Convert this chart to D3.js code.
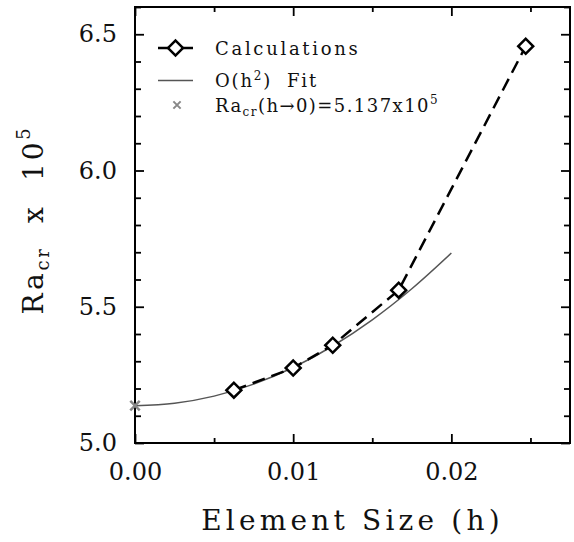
<!DOCTYPE html>
<html lang="en">
<head>
    <meta charset="UTF-8">
    <title>Critical Rayleigh number vs element size</title>
    <script src="https://d3js.org/d3.v7.min.js"></script>
    <style>
        body { margin: 0; background: #fff; }
        svg text { font-family: "DejaVu Serif", serif; fill: #111; }
        .axis path { display: none; }
        .axis line { stroke: #000; stroke-width: 1.8; }
    </style>
</head>
<body>
    <svg id="chart" width="574" height="542"></svg>

    <script>
        // Calculated critical Ra (x 10^5) against element size h
        const calcH = [0.00625, 0.01, 0.0125, 0.01667, 0.0247];
        const calcRa = [5.194, 5.275, 5.359, 5.561, 6.456];

        // O(h^2) fit
        const fitH = [0, 0.0025, 0.005, 0.0075, 0.01, 0.0125, 0.015, 0.0175, 0.02];
        const fitRa = [5.137, 5.146, 5.172, 5.216, 5.277, 5.356, 5.452, 5.566, 5.697];

        // extrapolated value at h -> 0
        const limitH = 0;
        const limitRa = 5.137;

        const xMajor = [0, 0.01, 0.02];
        const xMinor = [0.005, 0.015, 0.025];
        const yMajor = [5.0, 5.5, 6.0, 6.5];
        const yMinor = [5.1, 5.2, 5.3, 5.4, 5.6, 5.7, 5.8, 5.9, 6.1, 6.2, 6.3, 6.4, 6.6];

        const svg = d3.select("#chart"),
            margin = { top: 7, right: 4, bottom: 99, left: 135 },
            width = +svg.attr("width") - margin.left - margin.right,
            height = +svg.attr("height") - margin.top - margin.bottom;

        const chart = svg.append("g")
            .attr("transform", `translate(${margin.left},${margin.top})`);

        const x = d3.scaleLinear().domain([0, 0.0275]).range([0, width]);
        const y = d3.scaleLinear().domain([5.0, 6.6]).range([height, 0]);

        // ticks on all four sides, pointing in
        chart.append("g").attr("class", "axis")
            .attr("transform", `translate(0,${height})`)
            .call(d3.axisBottom(x).tickValues(xMajor).tickSizeInner(-9).tickSizeOuter(0)
                .tickPadding(20).tickFormat(d3.format(".2f")))
            .call(g => g.selectAll("text").attr("font-size", 24).attr("font-family", "DejaVu Serif"));
        chart.append("g").attr("class", "axis")
            .attr("transform", `translate(0,${height})`)
            .call(d3.axisBottom(x).tickValues(xMinor).tickSizeInner(-5).tickSizeOuter(0).tickFormat(""));
        chart.append("g").attr("class", "axis")
            .call(d3.axisTop(x).tickValues(xMajor).tickSizeInner(-9).tickSizeOuter(0).tickFormat(""));
        chart.append("g").attr("class", "axis")
            .call(d3.axisTop(x).tickValues(xMinor).tickSizeInner(-5).tickSizeOuter(0).tickFormat(""));

        chart.append("g").attr("class", "axis")
            .call(d3.axisLeft(y).tickValues(yMajor).tickSizeInner(-9).tickSizeOuter(0)
                .tickPadding(18).tickFormat(d3.format(".1f")))
            .call(g => g.selectAll("text").attr("font-size", 24).attr("font-family", "DejaVu Serif"));
        chart.append("g").attr("class", "axis")
            .call(d3.axisLeft(y).tickValues(yMinor).tickSizeInner(-6).tickSizeOuter(0).tickFormat(""));
        chart.append("g").attr("class", "axis")
            .attr("transform", `translate(${width},0)`)
            .call(d3.axisRight(y).tickValues(yMajor).tickSizeInner(-9).tickSizeOuter(0).tickFormat(""));
        chart.append("g").attr("class", "axis")
            .attr("transform", `translate(${width},0)`)
            .call(d3.axisRight(y).tickValues(yMinor).tickSizeInner(-6).tickSizeOuter(0).tickFormat(""));

        // frame
        chart.append("rect")
            .attr("width", width).attr("height", height)
            .attr("fill", "none").attr("stroke", "#000").attr("stroke-width", 2);

        // fit curve
        const fitData = fitH.map((h, i) => ({ h, ra: fitRa[i] }));
        chart.append("path")
            .datum(fitData)
            .attr("fill", "none")
            .attr("stroke", "#555")
            .attr("stroke-width", 1.5)
            .attr("d", d3.line().curve(d3.curveMonotoneX).x(d => x(d.h)).y(d => y(d.ra)));

        // calculations, dashed
        const calcData = calcH.map((h, i) => ({ h, ra: calcRa[i] }));
        chart.append("path")
            .datum(calcData)
            .attr("fill", "none")
            .attr("stroke", "#000")
            .attr("stroke-width", 2.5)
            .attr("stroke-dasharray", "13,7")
            .attr("d", d3.line().x(d => x(d.h)).y(d => y(d.ra)));

        const diamond = d3.symbol().type(d3.symbolSquare).size(112);
        chart.selectAll(".calc")
            .data(calcData)
            .enter().append("path")
            .attr("class", "calc")
            .attr("d", diamond)
            .attr("transform", d => `translate(${x(d.h)},${y(d.ra)}) rotate(45)`)
            .attr("fill", "#fff")
            .attr("stroke", "#000")
            .attr("stroke-width", 2.5);

        const cross = d3.symbol().type(d3.symbolX).size(60);
        chart.append("path")
            .attr("d", cross)
            .attr("transform", `translate(${x(limitH)},${y(limitRa)})`)
            .attr("fill", "none")
            .attr("stroke", "#888")
            .attr("stroke-width", 2.5);

        // legend
        const legend = chart.append("g").attr("transform", "translate(23,41)");
        const legendFont = 18, rowGap = 28.5;

        legend.append("line")
            .attr("x1", 0).attr("x2", 35).attr("y1", 0).attr("y2", 0)
            .attr("stroke", "#000").attr("stroke-width", 2.5);
        legend.append("path")
            .attr("d", diamond)
            .attr("transform", "translate(17.5,0) rotate(45)")
            .attr("fill", "#fff").attr("stroke", "#000").attr("stroke-width", 2.5);

        legend.append("line")
            .attr("x1", 0).attr("x2", 35).attr("y1", rowGap + 4).attr("y2", rowGap + 4)
            .attr("stroke", "#555").attr("stroke-width", 1.5);

        legend.append("path")
            .attr("d", d3.symbol().type(d3.symbolX).size(36))
            .attr("transform", `translate(19,${2 * rowGap})`)
            .attr("fill", "none").attr("stroke", "#888").attr("stroke-width", 2);

        legend.append("text")
            .attr("x", 57).attr("y", 7)
            .attr("font-size", legendFont).attr("letter-spacing", "0.15em")
            .text("Calculations");

        const t2 = legend.append("text")
            .attr("x", 57).attr("y", rowGap + 10)
            .attr("font-size", legendFont).attr("letter-spacing", "0.1em");
        t2.append("tspan").text("O(h");
        t2.append("tspan").attr("font-size", 12).attr("dy", -7).text("2");
        t2.append("tspan").attr("dy", 7).text(")\u00a0\u00a0Fit");

        const t3 = legend.append("text")
            .attr("x", 57).attr("y", 2 * rowGap + 7)
            .attr("font-size", legendFont).attr("letter-spacing", "0.08em");
        t3.append("tspan").text("Ra");
        t3.append("tspan").attr("font-size", 12).attr("dy", 4).text("cr");
        t3.append("tspan").attr("dy", -4).text(`(h\u2192${limitH})=${limitRa.toFixed(3)}x10`);
        t3.append("tspan").attr("font-size", 12).attr("dy", -8).text("5");

        // axis titles
        svg.append("text")
            .attr("x", margin.left + width / 2)
            .attr("y", 530)
            .attr("text-anchor", "middle")
            .attr("font-size", 28)
            .attr("letter-spacing", "0.15em")
            .text("Element Size (h)");

        const yt = svg.append("text")
            .attr("transform", "translate(43,220) rotate(-90)")
            .attr("text-anchor", "middle")
            .attr("font-size", 28)
            .attr("letter-spacing", "0.1em");
        yt.append("tspan").text("Ra");
        yt.append("tspan").attr("font-size", 18).attr("dy", 6).text("cr");
        yt.append("tspan").attr("dy", -6).text("\u00a0\u00a0x\u00a0\u00a010");
        yt.append("tspan").attr("font-size", 18).attr("dy", -13).text("5");
    </script>
</body>
</html>
